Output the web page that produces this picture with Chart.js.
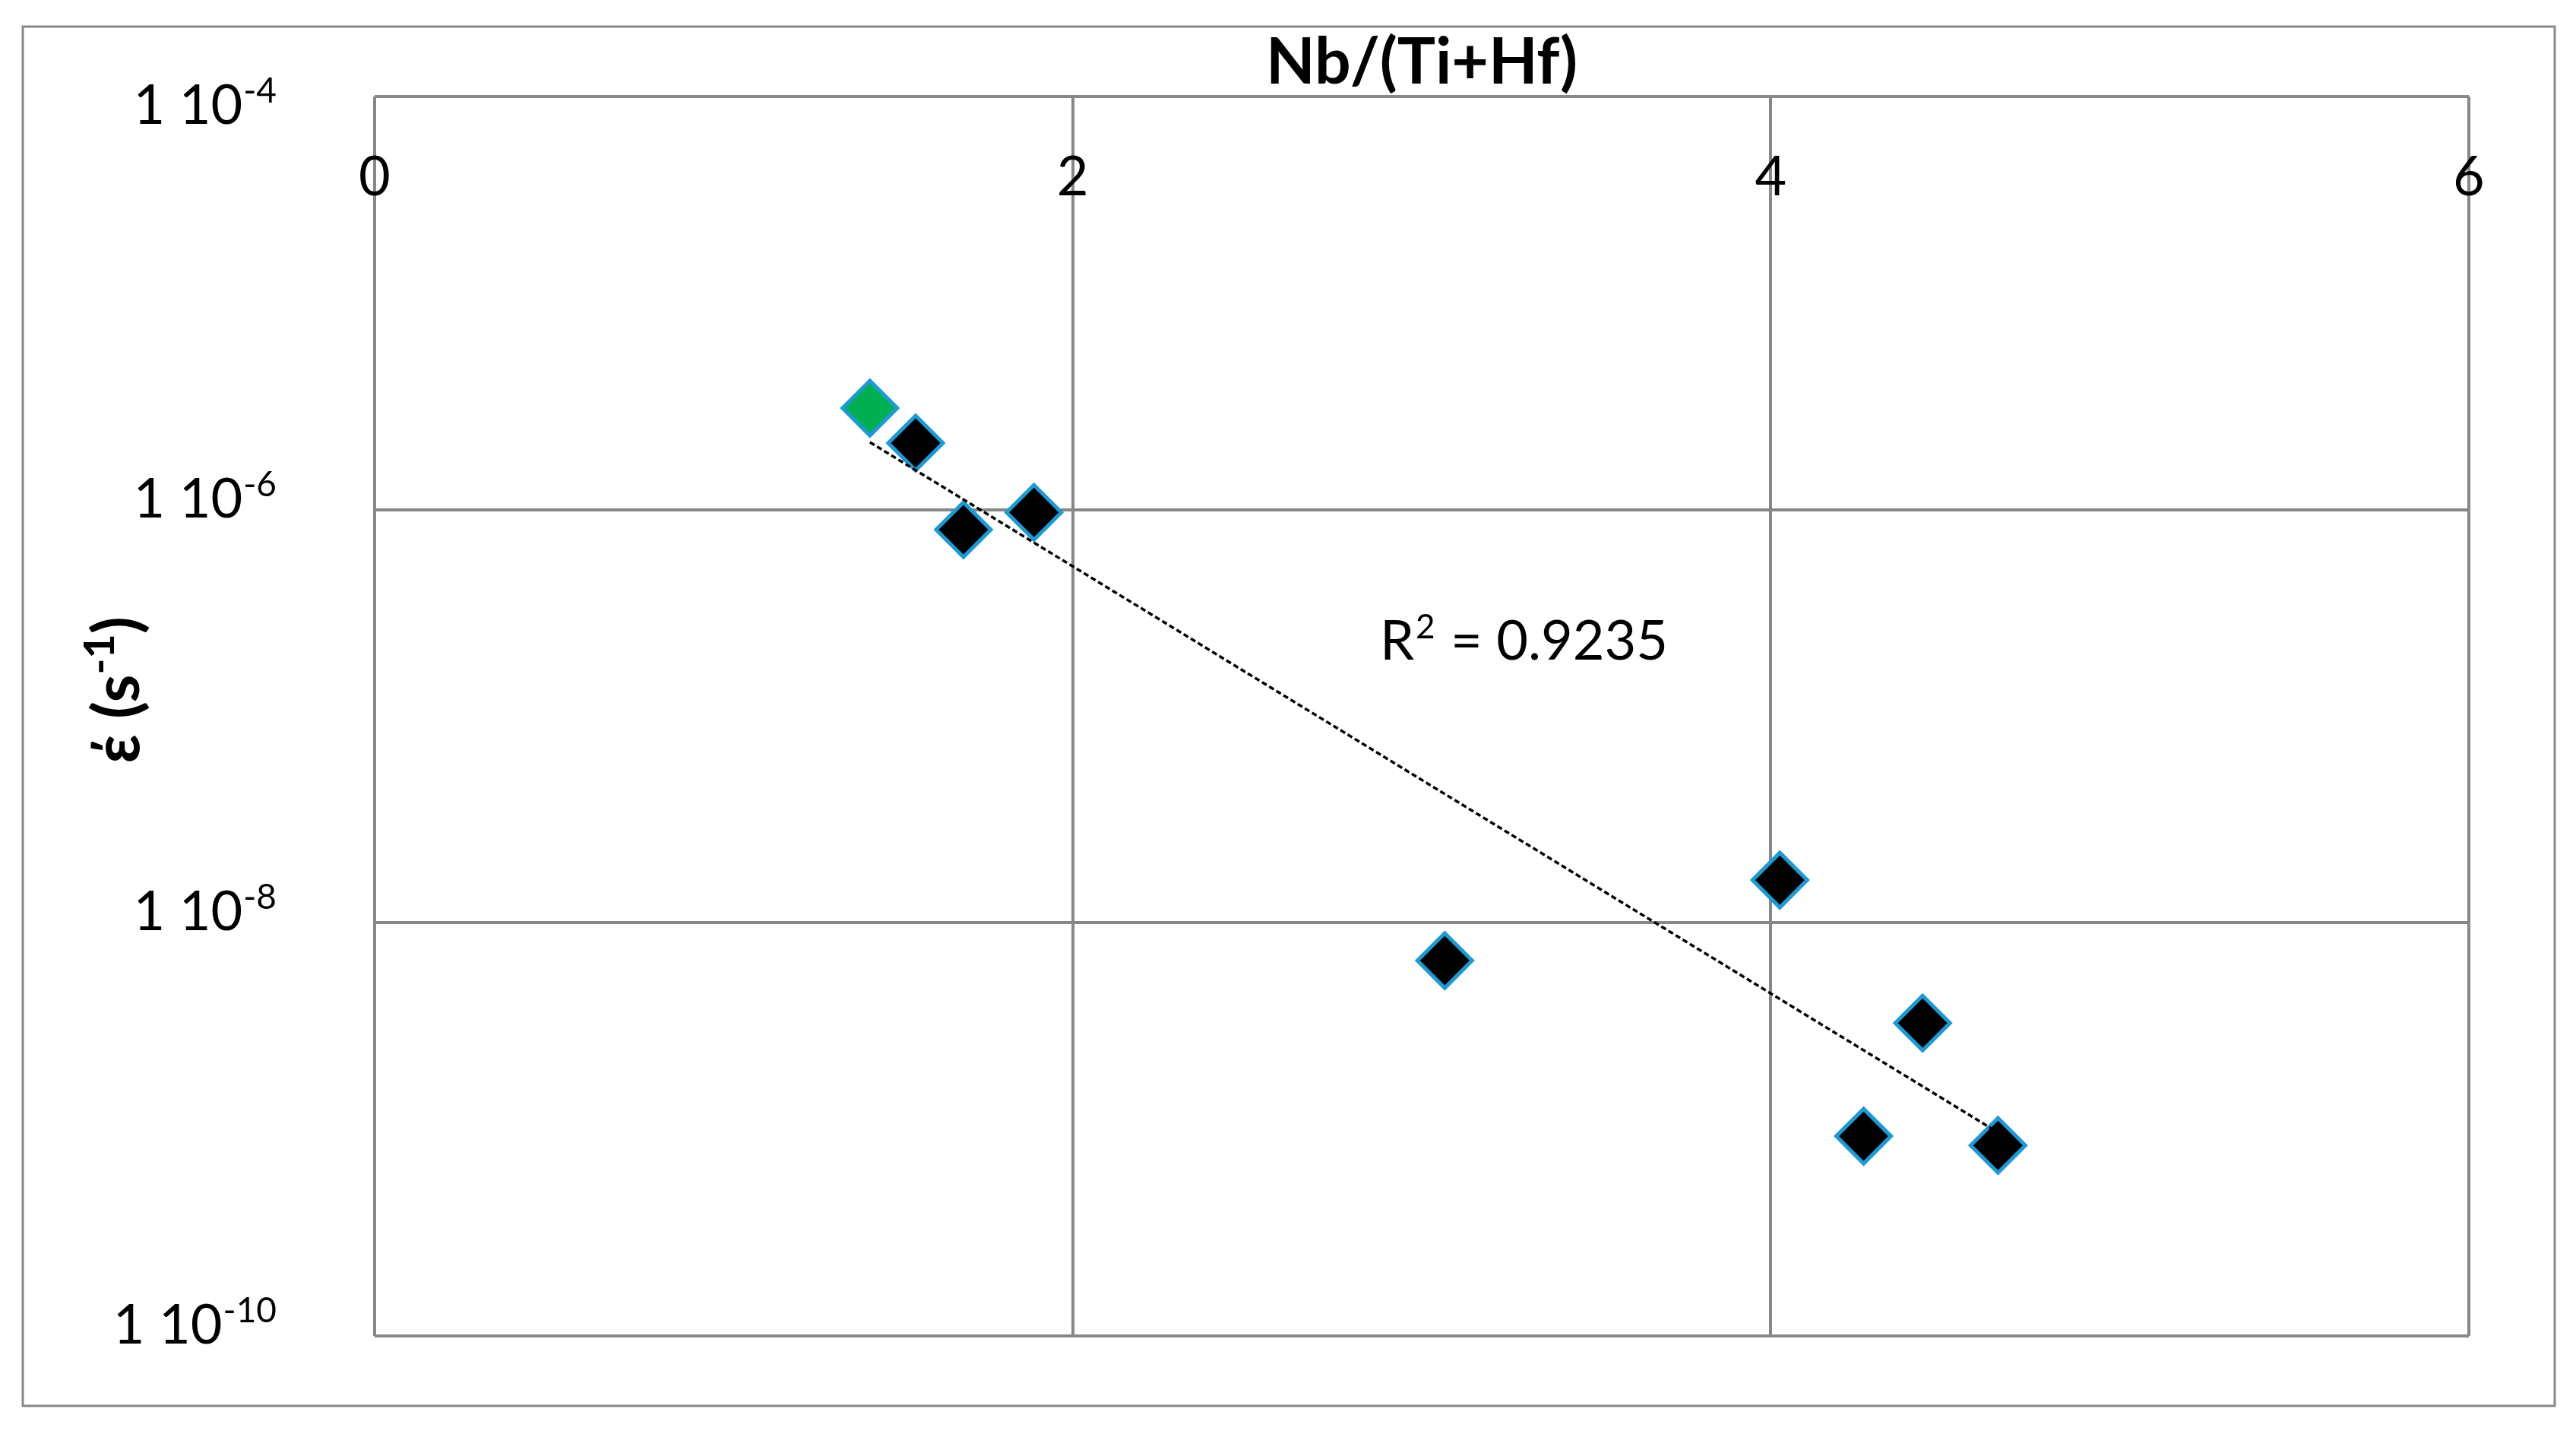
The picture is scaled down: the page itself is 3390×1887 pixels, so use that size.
<!DOCTYPE html>
<html>
<head>
<meta charset="utf-8">
<script src="https://cdn.jsdelivr.net/npm/chart.js@4.4.0/dist/chart.umd.min.js"></script>
<style>
html, body { margin: 0; padding: 0; background: #fff; }
canvas { display: block; }
</style>
</head>
<body>
<canvas id="rateChart" width="3390" height="1887"></canvas>
<script>
// Nb/(Ti+Hf) ratio against strain rate
var greenRatio = [1.419];
var greenRate = [3.10e-6];
var blackRatio = [1.550, 1.687, 1.889, 3.066, 4.026, 4.266, 4.435, 4.651];
var blackRate = [2.10e-6, 8.0e-7, 9.7e-7, 6.56e-9, 1.61e-8, 9.27e-10, 3.27e-9, 8.37e-10];

// exponential trendline, ends as drawn
var trendRatio = [1.419, 4.651];
var trendRate = [2.12e-6, 9.66e-10];

var xTicks = [0, 2, 4, 6];
var yTicks = [1e-10, 1e-8, 1e-6, 1e-4];
var r2Value = '0.9235';

var FONT = 'Lato, "Open Sans", "DejaVu Sans", sans-serif';
var GRID = '#878787';

var toPoints = function(xs, ys){
    return xs.map(function(x, i){ return {x: x, y: ys[i]}; });
};

// text drawn by hand so the exponents can be superscripts
var textPlugin = {
    id: 'textPlugin',
    beforeDraw: function(chart){
        var ctx = chart.ctx;
        ctx.save();
        ctx.fillStyle = '#fff';
        ctx.fillRect(0, 0, chart.width, chart.height);
        ctx.strokeStyle = GRID;
        ctx.lineWidth = 3;
        ctx.strokeRect(30, 35, 3332, 1815);
        ctx.restore();
    },
    afterDraw: function(chart){
        var ctx = chart.ctx;
        var area = chart.chartArea;
        var xs = chart.scales.x;
        var ys = chart.scales.y;
        ctx.save();
        ctx.fillStyle = '#000';
        ctx.textBaseline = 'alphabetic';

        // x axis title
        ctx.font = 'bold 84px ' + FONT;
        ctx.textAlign = 'center';
        ctx.fillText('Nb/(Ti+Hf)', (area.left + area.right) / 2, 110);

        // x tick labels sit inside the plot, under the top edge
        ctx.font = '72px ' + FONT;
        xTicks.forEach(function(v){
            ctx.fillText(String(v), xs.getPixelForValue(v), area.top + 130);
        });

        // y tick labels "1 10^n"
        ctx.textAlign = 'left';
        var rightX = area.left - 129;
        yTicks.forEach(function(v){
            var py = ys.getPixelForValue(v);
            var base = Math.max(py + 10, area.top + 36);
            var exp = '-' + Math.round(-Math.log10(v));
            ctx.font = '72px ' + FONT;
            var wMain = ctx.measureText('1 10').width;
            ctx.font = '46px ' + FONT;
            var wSup = ctx.measureText(exp).width;
            var x0 = rightX - wMain - wSup - 1;
            ctx.font = '72px ' + FONT;
            ctx.fillText('1 10', x0, base);
            ctx.font = '46px ' + FONT;
            ctx.fillText(exp, x0 + wMain + 1, base - 28);
        });

        // y axis title, rotated
        ctx.save();
        ctx.translate(183, 908);
        ctx.rotate(-Math.PI / 2);
        ctx.font = 'bold 84px ' + FONT;
        var a = ctx.measureText('έ (s').width;
        var c = ctx.measureText(')').width;
        ctx.font = 'bold 56px ' + FONT;
        var b = ctx.measureText('-1').width;
        var sx = -(a + b + c) / 2;
        ctx.font = 'bold 84px ' + FONT;
        ctx.fillText('έ (s', sx, 0);
        ctx.fillText(')', sx + a + b, 0);
        ctx.font = 'bold 56px ' + FONT;
        ctx.fillText('-1', sx + a, -33);
        ctx.restore();

        // R² of the trendline
        var rx = xs.getPixelForValue(2.88);
        var ry = ys.getPixelForValue(1.88e-7);
        ctx.font = '72px ' + FONT;
        var wR = ctx.measureText('R').width;
        ctx.fillText('R', rx, ry);
        ctx.font = '44px ' + FONT;
        var w2 = ctx.measureText('2').width;
        ctx.fillText('2', rx + wR + 2, ry - 28);
        ctx.font = '72px ' + FONT;
        ctx.fillText(' = ' + r2Value, rx + wR + w2 + 4, ry);
        ctx.restore();
    }
};

var ctx = document.getElementById('rateChart').getContext('2d');
var chartObj = new Chart(ctx, {
    type: 'scatter',
    data: {
        datasets: [{
            label: 'trend',
            data: toPoints(trendRatio, trendRate),
            showLine: true,
            borderColor: '#000',
            borderWidth: 3.5,
            borderDash: [7, 4],
            pointRadius: 0,
            order: 0
        }, {
            label: 'green',
            data: toPoints(greenRatio, greenRate),
            pointStyle: 'rectRot',
            pointRadius: 36,
            backgroundColor: '#00b050',
            borderColor: '#1b9ad6',
            borderWidth: 5,
            order: 1
        }, {
            label: 'black',
            data: toPoints(blackRatio, blackRate),
            pointStyle: 'rectRot',
            pointRadius: 36,
            backgroundColor: '#000',
            borderColor: '#1b9ad6',
            borderWidth: 5,
            order: 1
        }]
    },
    options: {
        responsive: false,
        animation: false,
        devicePixelRatio: 1,
        layout: { padding: { left: 493, top: 127, right: 141, bottom: 129 } },
        plugins: { legend: { display: false }, tooltip: { enabled: false } },
        scales: {
            x: {
                type: 'linear',
                min: 0,
                max: 6,
                ticks: { display: false },
                afterBuildTicks: function(s){ s.ticks = xTicks.map(function(v){ return {value: v}; }); },
                grid: { color: GRID, lineWidth: 4, drawTicks: false },
                border: { display: false }
            },
            y: {
                type: 'logarithmic',
                min: 1e-10,
                max: 1e-4,
                ticks: { display: false },
                afterBuildTicks: function(s){ s.ticks = yTicks.map(function(v){ return {value: v}; }); },
                grid: { color: GRID, lineWidth: 4, drawTicks: false },
                border: { display: false }
            }
        }
    },
    plugins: [textPlugin]
});
</script>
</body>
</html>
